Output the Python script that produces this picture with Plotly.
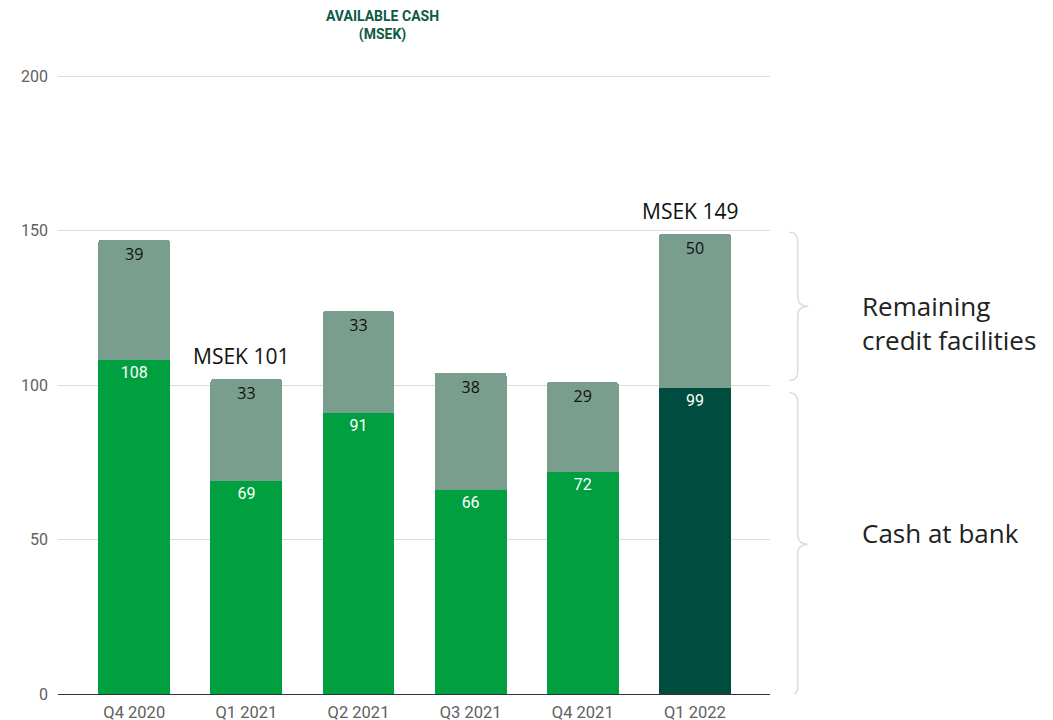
import plotly.graph_objects as go

categories = ["Q4 2020", "Q1 2021", "Q2 2021", "Q3 2021", "Q4 2021", "Q1 2022"]
cash_at_bank = [108, 69, 91, 66, 72, 99]
credit_facilities = [39, 33, 33, 38, 29, 50]
total_labels = {"Q1 2021": "MSEK 101", "Q1 2022": "MSEK 149"}
y_ticks = [0, 50, 100, 150, 200]

GREEN = "#00A040"
DARK = "#004D3F"
GREY_GREEN = "#7A9E8E"
cash_colors = [DARK if c == "Q1 2022" else GREEN for c in categories]

fig = go.Figure()
fig.add_trace(go.Bar(
    x=categories, y=cash_at_bank, marker=dict(color=cash_colors, line=dict(width=0)),
    text=[str(v) for v in cash_at_bank], textposition="inside", insidetextanchor="end",
    textangle=0, textfont=dict(family="Roboto", size=16, color="white"),
    name="Cash at bank", width=0.64,
))
fig.add_trace(go.Bar(
    x=categories, y=credit_facilities, marker=dict(color=GREY_GREEN, line=dict(width=0)),
    text=[str(v) for v in credit_facilities], textposition="inside", insidetextanchor="end",
    textangle=0, textfont=dict(family="Open Sans", size=16, color="#111111"),
    name="Remaining credit facilities", width=0.64,
))

totals = [a + b for a, b in zip(cash_at_bank, credit_facilities)]
for c, t in zip(categories, totals):
    if c in total_labels:
        fig.add_annotation(x=c, y=t, text=total_labels[c], showarrow=False,
                           yanchor="bottom", yshift=7, xshift=-5,
                           font=dict(family="Open Sans", size=21, color="#111111"))

# title
fig.add_annotation(xref="paper", yref="paper", x=0.456, y=1.0, yshift=69, yanchor="top",
                   text="<b>AVAILABLE CASH<br>(MSEK)</b>", showarrow=False, align="center",
                   font=dict(family="Roboto", size=14, color="#0E5A45"))

# braces
def brace(y_top, y_bot):
    xa, xb, xt = 1.027, 1.039, 1.054
    ym = (y_top + y_bot) / 2
    h = 3.0
    return (f"M {xa},{y_top} Q {xb},{y_top} {xb},{y_top - h} L {xb},{ym + h} "
            f"Q {xb},{ym} {xt},{ym} Q {xb},{ym} {xb},{ym - h} L {xb},{y_bot + h} "
            f"Q {xb},{y_bot} {xa},{y_bot}")

fig.add_shape(type="path", xref="paper", yref="y", path=brace(149.5, 101.5),
              line=dict(color="#DDDDDD", width=1.5))
fig.add_shape(type="path", xref="paper", yref="y", path=brace(97.5, -0.5),
              line=dict(color="#DDDDDD", width=1.5))

fig.add_annotation(xref="paper", yref="y", x=1.127, y=120, xanchor="left",
                   text="Remaining<br>credit facilities", showarrow=False, align="left",
                   font=dict(family="Open Sans", size=26, color="#222222"))
fig.add_annotation(xref="paper", yref="y", x=1.127, y=52, xanchor="left",
                   text="Cash at bank", showarrow=False, align="left",
                   font=dict(family="Open Sans", size=26, color="#222222"))

fig.update_layout(
    barmode="stack", barcornerradius=3, showlegend=False,
    width=1053, height=720, autosize=False,
    margin=dict(l=58, r=283, t=75, b=26),
    paper_bgcolor="white", plot_bgcolor="white",
    font=dict(family="Roboto"),
    xaxis=dict(range=[-0.68, 5.67], showgrid=False, showline=False, ticks="",
               automargin=False, ticklabelstandoff=6,
               tickfont=dict(family="Roboto", size=16.5, color="#616161")),
    yaxis=dict(range=[0, 200.4], tickvals=y_ticks, showgrid=True, gridcolor="#DDDDDD",
               zeroline=True, zerolinecolor="#333333", zerolinewidth=1.2,
               ticks="", automargin=False,
               tickfont=dict(family="Roboto", size=16, color="#616161"),
               ticklabelstandoff=9),
)

fig.write_html("out.html")
